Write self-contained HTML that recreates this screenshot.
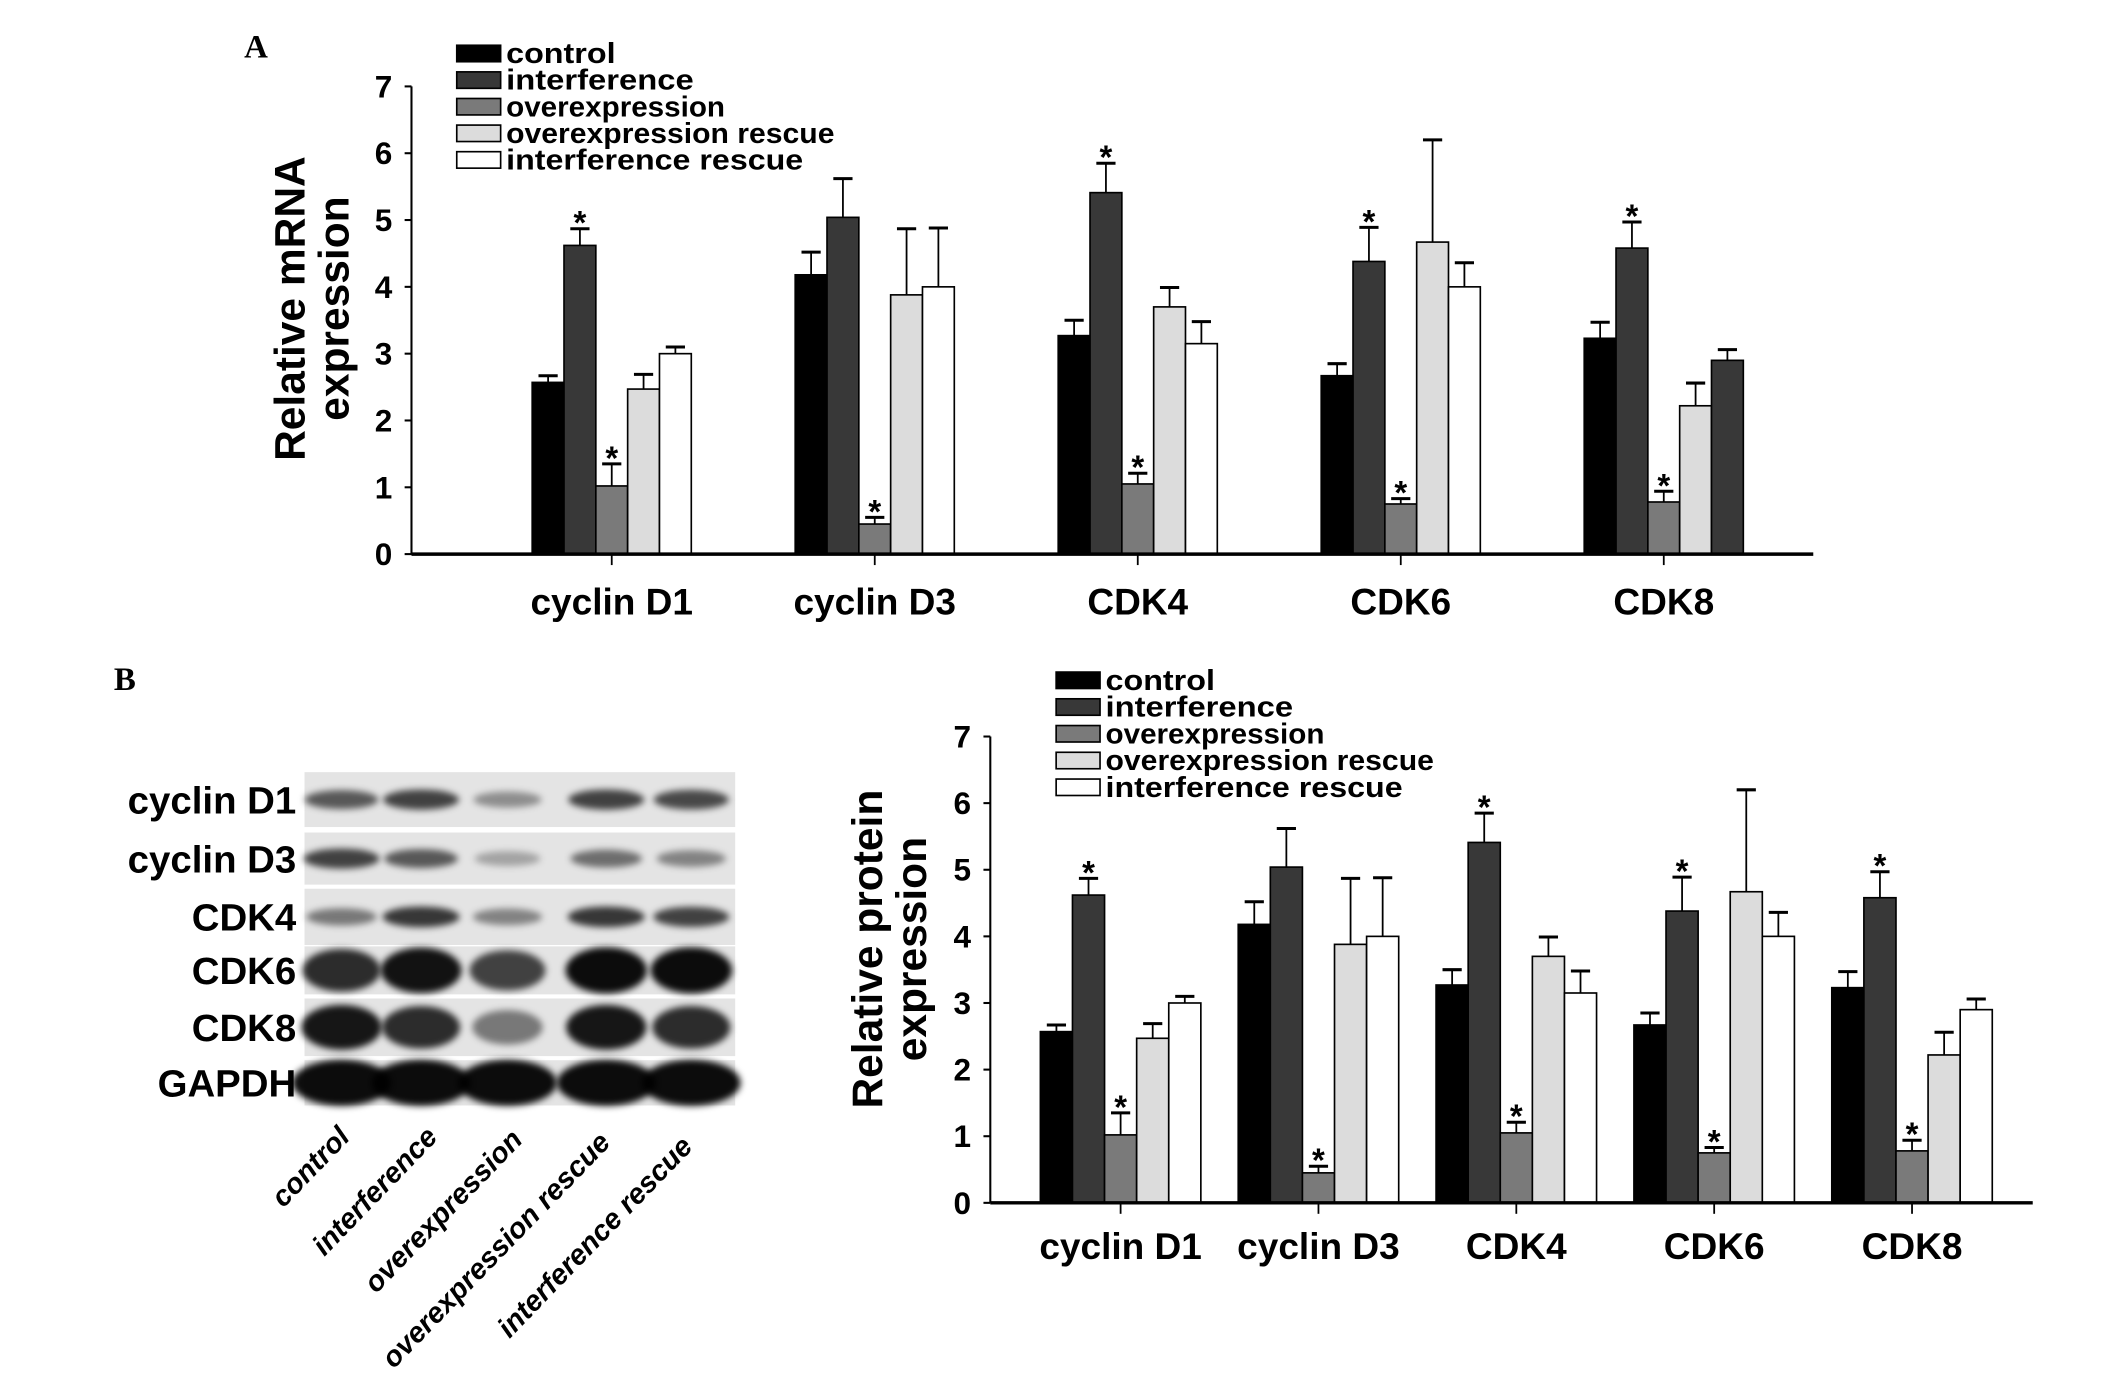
<!DOCTYPE html>
<html><head><meta charset="utf-8"><style>
html,body{margin:0;padding:0;background:#fff;}
svg{display:block;}
text{font-family:"Liberation Sans",Arial,sans-serif;font-weight:bold;}
</style></head><body>
<svg id="fig" width="2126" height="1388" viewBox="0 0 1550 1012" preserveAspectRatio="none" xmlns="http://www.w3.org/2000/svg">
<defs><filter id="blur" x="-20%" y="-50%" width="140%" height="200%"><feGaussianBlur stdDeviation="2.5"/></filter></defs>
<text x="178" y="42" font-size="24" style="font-family:'Liberation Serif',serif">A</text>
<text x="83" y="503" font-size="24" style="font-family:'Liberation Serif',serif">B</text>
<g id="chartA"></g>
<g id="chartB"></g>
<g id="blot"></g>
</svg>
<script>
const categories = ["cyclin D1","cyclin D3","CDK4","CDK6","CDK8"];
const seriesNames = ["control","interference","overexpression","overexpression rescue","interference rescue"];
const controlVals = [2.57,4.18,3.27,2.67,3.23];
const interferenceVals = [4.62,5.04,5.41,4.38,4.58];
const overexpressionVals = [1.02,0.45,1.05,0.75,0.78];
const overRescueVals = [2.47,3.88,3.70,4.67,2.22];
const interRescueVals = [3.00,4.00,3.15,4.00,2.90];
const controlErr = [2.67,4.52,3.50,2.85,3.47];
const interferenceErr = [4.87,5.62,5.85,4.89,4.97];
const overexpressionErr = [1.35,0.55,1.21,0.83,0.94];
const overRescueErr = [2.69,4.87,3.99,6.20,2.56];
const interRescueErr = [3.10,4.88,3.48,4.36,3.06];
const starInterference = [true,false,true,true,true];
const starOverexpression = [true,true,true,true,true];
const yTicks = [0,1,2,3,4,5,6,7];
const blotRows = ["cyclin D1","cyclin D3","CDK4","CDK6","CDK8","GAPDH"];
const blotLanes = ["control","interference","overexpression","overexpression rescue","interference rescue"];
const bandIntensity = [[0.65,0.75,0.4,0.75,0.72],[0.75,0.65,0.3,0.55,0.45],[0.5,0.8,0.45,0.8,0.75],[0.85,0.97,0.75,1,1],[0.95,0.85,0.5,0.95,0.85],[1,1,1,1,1]];

const NS="http://www.w3.org/2000/svg";
function mk(tag,attrs,parent,txt){const e=document.createElementNS(NS,tag);for(const k in attrs)e.setAttribute(k,attrs[k]);if(txt!==undefined)e.textContent=txt;parent.appendChild(e);return e;}
const vals=[controlVals,interferenceVals,overexpressionVals,overRescueVals,interRescueVals];
const errs=[controlErr,interferenceErr,overexpressionErr,overRescueErr,interRescueErr];
const fills=["#000","#383838","#7a7a7a","#dcdcdc","#fff"];

function drawChart(g,cfg){
  const y=v=>cfg.y0-(v/7)*(cfg.y0-cfg.y7);
  const x=i=>cfg.cx0+i*cfg.dx;
  seriesNames.forEach((n,i)=>{
    const ly=cfg.ly+i*cfg.ldy;
    const r=mk('rect',{x:cfg.lx,y:ly-6,width:32,height:12,fill:fills[i],stroke:'#000','stroke-width':1.2},g);
    
    const t=mk('text',{x:cfg.lx+36,y:ly+7,'font-size':21,textLength:n.length*11.4,lengthAdjust:'spacingAndGlyphs'},g,n);
    
  });
  const ya=mk('line',{x1:cfg.ax,y1:cfg.y7,x2:cfg.ax,y2:cfg.y0,stroke:'#000','stroke-width':1.5},g);
  
  yTicks.forEach(v=>{
    mk('line',{x1:cfg.ax-5,y1:y(v),x2:cfg.ax,y2:y(v),stroke:'#000','stroke-width':1.5},g);
    const t=mk('text',{x:cfg.ax-14,y:y(v)+8,'font-size':23,'text-anchor':'end'},g,v);
    
  });
  const yt=mk('text',{transform:`translate(${cfg.tx},${cfg.ty}) rotate(-90)`,'font-size':31,'text-anchor':'middle'},g);
  
  mk('tspan',{x:0,dy:0},yt,cfg.title1);mk('tspan',{x:0,dy:32},yt,'expression');
  categories.forEach((c,ci)=>{
    const cx=x(ci);
    for(let s=0;s<5;s++){
      const bx=cx+(s-2.5)*cfg.bw;
      let f=fills[s];
      if(cfg.override&&cfg.override[ci]&&cfg.override[ci][s])f=cfg.override[ci][s];
      const ey=y(errs[s][ci]);
      const mx=bx+cfg.bw/2;
      mk('line',{x1:mx,y1:ey,x2:mx,y2:y(vals[s][ci]),stroke:'#000','stroke-width':1.3},g);
      mk('line',{x1:mx-7,y1:ey,x2:mx+7,y2:ey,stroke:'#000','stroke-width':2.2},g);
      const r=mk('rect',{x:bx,y:y(vals[s][ci]),width:cfg.bw,height:y(0)-y(vals[s][ci]),fill:f,stroke:'#000','stroke-width':1.2},g);
      
      const star=(s===1&&starInterference[ci])||(s===2&&starOverexpression[ci]);
      if(star){const st=mk('text',{x:mx,y:ey+4,'font-size':24,'text-anchor':'middle'},g,'*');
        }
    }
    mk('line',{x1:cx,y1:cfg.y0,x2:cx,y2:cfg.y0+8,stroke:'#000','stroke-width':1.3},g);
    const t=mk('text',{x:cx,y:cfg.y0+cfg.cly,'font-size':27,'text-anchor':'middle'},g,c);
    
  });
  const xa=mk('line',{x1:cfg.ax,y1:cfg.y0,x2:cfg.axEnd,y2:cfg.y0,stroke:'#000','stroke-width':2.5},g);
  
}
drawChart(document.getElementById('chartA'),{y0:404,y7:63,ax:300,axEnd:1322,cx0:446,dx:191.75,bw:23.2,lx:333,ly:39,ldy:19.4,tx:222,ty:225,title1:'Relative mRNA',cly:44,override:{4:{4:'#383838'}}});
drawChart(document.getElementById('chartB'),{y0:877,y7:537,ax:722,axEnd:1482,cx0:817,dx:144.25,bw:23.4,lx:770,ly:496,ldy:19.5,tx:643,ty:692,title1:'Relative protein',cly:41});

const bg=document.getElementById('blot');
const rowsY=[[563,603],[607,645],[648,689],[690,725],[728,770],[773,806]];
const laneX=[249,307,370,442,504];
blotRows.forEach((rn,ri)=>{
  const [t,b]=rowsY[ri];
  const r=mk('rect',{x:222,y:t,width:314,height:b-t,fill:'#e4e4e4'},bg);
  
  laneX.forEach((lx,li)=>{
    const k=bandIntensity[ri][li];
    const h=(ri>=3?14:7)*(0.6+k*0.6);
    const e=mk('ellipse',{cx:lx,cy:(t+b)/2,rx:ri===5?36:27*(0.8+k*0.3),ry:h,fill:'#000','fill-opacity':Math.min(1,k*0.95),filter:'url(#blur)'},bg);
    
  });
  const tl=mk('text',{x:216,y:(t+b)/2+10,'font-size':28,'text-anchor':'end'},bg,rn);
  
});
const laneEnd=[[256,830],[320,830],[382,832],[446,834],[506,837]];
blotLanes.forEach((ln,li)=>{
  const t=mk('text',{transform:`translate(${laneEnd[li][0]},${laneEnd[li][1]}) rotate(-46)`,'font-size':21,'text-anchor':'end','font-style':'italic'},bg,ln);
  
});
</script>
</body></html>
